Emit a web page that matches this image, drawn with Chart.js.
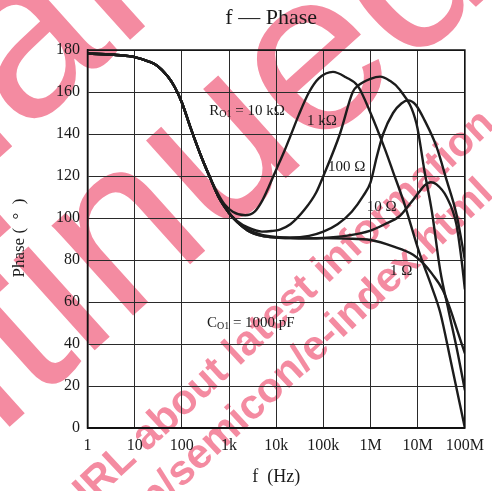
<!DOCTYPE html>
<html><head><meta charset="utf-8">
<script src="https://cdn.jsdelivr.net/npm/chart.js@4.4.1/dist/chart.umd.min.js"></script>
<style>html,body{margin:0;padding:0;background:#fff}#wrap{width:492px;height:491px}</style>
</head><body><div id="wrap"><canvas id="c" width="492" height="491"></canvas></div>
<script>
// ---- data ----
const tickValues = [1, 10, 100, 1e3, 1e4, 1e5, 1e6, 1e7, 1e8];
const tickLabels = ['1', '10', '100', '1k', '10k', '100k', '1M', '10M', '100M'];
const yTicks = [0, 20, 40, 60, 80, 100, 120, 140, 160, 180];

const commonFreq  = [1, 5, 10, 20, 30, 50, 70, 100, 150, 250, 400];
const commonPhase = [178.3, 177.5, 176.6, 174.5, 172.5, 167.5, 162.5, 155, 143.5, 130, 119];

const r10kFreq  = [600, 800, 1200, 2200, 3500, 5000, 7000, 1e4, 1.5e4, 2e4, 3e4, 5e4, 8e4, 1.6e5, 3e5, 5.4e5, 1e6, 2e6, 3e6, 5e6, 1.1e7, 2e7, 3e7, 5e7, 1e8];
const r10kPhase = [111, 106.5, 103, 101.3, 103, 108, 115, 123, 132, 139, 149, 160, 166.5, 169.6, 167, 162.8, 150, 133, 122, 108, 83, 67, 55, 32, 0];

const r1kFreq  = [600, 1000, 1500, 2500, 5000, 8000, 1.2e4, 2e4, 4e4, 7e4, 1e5, 2.24e5, 4.2e5, 5.4e5, 1e6, 1.6e6, 2.5e6, 4.2e6, 9.4e6, 1.4e7, 2e7, 3e7, 4.5e7, 7e7, 1e8];
const r1kPhase = [110, 102.4, 98.5, 95.5, 93.5, 93.8, 94.5, 97, 104, 112, 120, 140, 160, 163, 166.3, 167.3, 165.5, 161, 145, 122, 103, 75, 56, 36, 18];

const r100Freq  = [600, 1000, 1500, 2500, 5000, 1e4, 2e4, 5e4, 1e5, 2e5, 4e5, 7e5, 1e6, 1.35e6, 1.85e6, 3e6, 4.5e6, 6.2e6, 9e6, 1.4e7, 2.5e7, 4.1e7, 6.6e7, 8.5e7, 1e8];
const r100Phase = [110, 102.4, 98, 94.5, 92, 91, 90.7, 91.5, 93.5, 97, 103, 110.5, 117, 129, 140, 150, 154.5, 156, 154, 146.5, 134, 118, 102, 89, 80];

const r10Freq  = [600, 1000, 1500, 2500, 5000, 1e4, 2e4, 5e4, 1e5, 3e5, 1e6, 2e6, 4.2e6, 7e6, 1e7, 1.4e7, 1.9e7, 2.5e7, 4.1e7, 6.6e7, 8.5e7, 1e8];
const r10Phase = [110, 102.4, 98, 94, 91.5, 90.7, 90.4, 90.3, 90.5, 91.5, 94, 97, 101, 107, 111.5, 115.5, 117, 116, 110, 97, 80, 66];

const r1Freq  = [600, 1000, 1500, 2500, 5000, 1e4, 2e4, 5e4, 1e5, 3e5, 1e6, 3e6, 8e6, 1.3e7, 2e7, 3.4e7, 5e7, 7e7, 1e8];
const r1Phase = [110, 102.4, 98, 94, 91.5, 90.7, 90.4, 90.3, 90.4, 90.2, 89.5, 86.5, 82.5, 78.5, 73.5, 65.7, 56, 46, 35.5];

const seriesNames = ['10 kΩ', '1 kΩ', '100 Ω', '10 Ω', '1 Ω'];
const seriesFreqs = [r10kFreq, r1kFreq, r100Freq, r10Freq, r1Freq];
const seriesPhases = [r10kPhase, r1kPhase, r100Phase, r10Phase, r1Phase];

// annotation anchors (data coords: left edge frequency, phase at text middle)
const labelTexts = ['R|O1| = 10 kΩ', '1 kΩ', '100 Ω', '10 Ω', '1 Ω', 'C|O1| = 1000 pF'];
const labelFreqs = [380, 4.5e4, 1.26e5, 8.3e5, 2.57e6, 340];
const labelPhases = [151, 146, 124.4, 105, 74.5, 49.8];

// ---- build ----
const SERIF = '"Liberation Serif", "Times New Roman", serif';
const SANS = '"Liberation Sans", Arial, sans-serif';
const INK = '#1c1c1c';
const datasets = seriesNames.map((n, i) => ({
  label: n,
  data: commonFreq.map((f, k) => ({x: f, y: commonPhase[k]}))
        .concat(seriesFreqs[i].map((f, k) => ({x: f, y: seriesPhases[i][k]}))),
  borderColor: INK, borderWidth: 2.4, pointRadius: 0, fill: false,
  cubicInterpolationMode: 'monotone'
}));

function drawAnchored(ctx, text, idx, ax, ay, deg, font) {
  ctx.save();
  ctx.font = font;
  const pre = ctx.measureText(text.slice(0, idx)).width;
  const cw = ctx.measureText(text[idx]).width;
  const xh = ctx.measureText('x').actualBoundingBoxAscent;
  ctx.translate(ax, ay);
  ctx.rotate(deg * Math.PI / 180);
  ctx.textAlign = 'left'; ctx.textBaseline = 'alphabetic';
  ctx.fillText(text, -(pre + cw / 2), xh / 2);
  ctx.restore();
}

const bgPlugin = {
  id: 'bg',
  beforeDraw(chart) {
    const ctx = chart.ctx;
    ctx.save();
    ctx.fillStyle = '#fff';
    ctx.fillRect(0, 0, chart.width, chart.height);
    ctx.fillStyle = 'rgb(244,139,161)';
    drawAnchored(ctx, 'Discontinued', 10, 318, 67, -42, '230px ' + SANS);
    drawAnchored(ctx, 'Maintenance/', 7, 30, 48, -42, '230px ' + SANS);
    // small two-line note
    const l1 = 'Please visit following URL about latest information.';
    const l2 = 'http://panasonic.co.jp/semicon/e-index.html';
    ctx.font = 'bold 42px ' + SANS;
    const idx = l1.indexOf('about') + 2;
    const pre = ctx.measureText(l1.slice(0, idx)).width;
    const cw = ctx.measureText(l1[idx]).width;
    const xh = ctx.measureText('x').actualBoundingBoxAscent;
    ctx.translate(184, 402);
    ctx.rotate(-43 * Math.PI / 180);
    ctx.textBaseline = 'alphabetic';
    ctx.textAlign = 'left';
    const x0 = -(pre + cw / 2);
    ctx.fillText(l1, x0, xh / 2);
    const end1 = x0 + ctx.measureText(l1).width;
    ctx.textAlign = 'right';
    ctx.fillText(l2, end1 - 60, xh / 2 + 50);
    ctx.restore();
  }
};

function drawSubText(ctx, text, x, y, size) {
  const parts = text.split('|');
  let cx = x;
  ctx.textBaseline = 'middle';
  ctx.textAlign = 'left';
  parts.forEach((p, i) => {
    const sub = i % 2 === 1;
    ctx.font = (sub ? Math.round(size * 0.68) : size) + 'px ' + SERIF;
    ctx.fillText(p, cx, sub ? y + size * 0.22 : y);
    cx += ctx.measureText(p).width;
  });
}

const textPlugin = {
  id: 'texts',
  afterDraw(chart) {
    const ctx = chart.ctx, a = chart.chartArea;
    const xs = chart.scales.x, ys = chart.scales.y;
    ctx.save();
    ctx.strokeStyle = '#111'; ctx.lineWidth = 1.5;
    ctx.strokeRect(a.left, a.top, a.right - a.left, a.bottom - a.top);
    ctx.fillStyle = '#1a1a1a';
    labelTexts.forEach((t, i) => {
      drawSubText(ctx, t, xs.getPixelForValue(labelFreqs[i]), ys.getPixelForValue(labelPhases[i]), 15);
    });
    ctx.textAlign = 'center'; ctx.textBaseline = 'middle';
    ctx.font = '22px ' + SERIF;
    ctx.fillText('f — Phase', (a.left + a.right) / 2 - 5, 18);
    ctx.font = '18px ' + SERIF;
    ctx.fillText('f  (Hz)', (a.left + a.right) / 2, 477);
    ctx.font = '17px ' + SERIF;
    ctx.translate(20, 238);
    ctx.rotate(-Math.PI / 2);
    ctx.fillText('Phase (  °  )', 0, 0);
    ctx.restore();
  }
};

new Chart(document.getElementById('c'), {
  type: 'line',
  data: {datasets},
  options: {
    responsive: false, animation: false, devicePixelRatio: 1,
    layout: {padding: {top: 50, right: 27, left: 0, bottom: 0}},
    plugins: {legend: {display: false}, tooltip: {enabled: false}, title: {display: false}},
    scales: {
      x: {
        type: 'logarithmic', min: 1, max: 1e8,
        afterBuildTicks: s => { s.ticks = tickValues.map(v => ({value: v})); },
        afterFit: s => { s.height = 63; },
        ticks: {
          autoSkip: false, maxRotation: 0, padding: 8, color: '#1a1a1a',
          font: {family: SERIF, size: 16},
          callback: v => tickLabels[Math.round(Math.log10(v))]
        },
        grid: {color: '#2a2a2a', lineWidth: 1, drawTicks: false},
        border: {color: '#111', width: 1.5}
      },
      y: {
        min: 0, max: 180,
        afterBuildTicks: s => { s.ticks = yTicks.map(v => ({value: v})); },
        afterFit: s => { s.width = 87.5; },
        ticks: {padding: 7.5, color: '#1a1a1a', font: {family: SERIF, size: 16}},
        grid: {color: '#2a2a2a', lineWidth: 1, drawTicks: false},
        border: {color: '#111', width: 1.5}
      }
    }
  },
  plugins: [bgPlugin, textPlugin]
});
</script></body></html>
